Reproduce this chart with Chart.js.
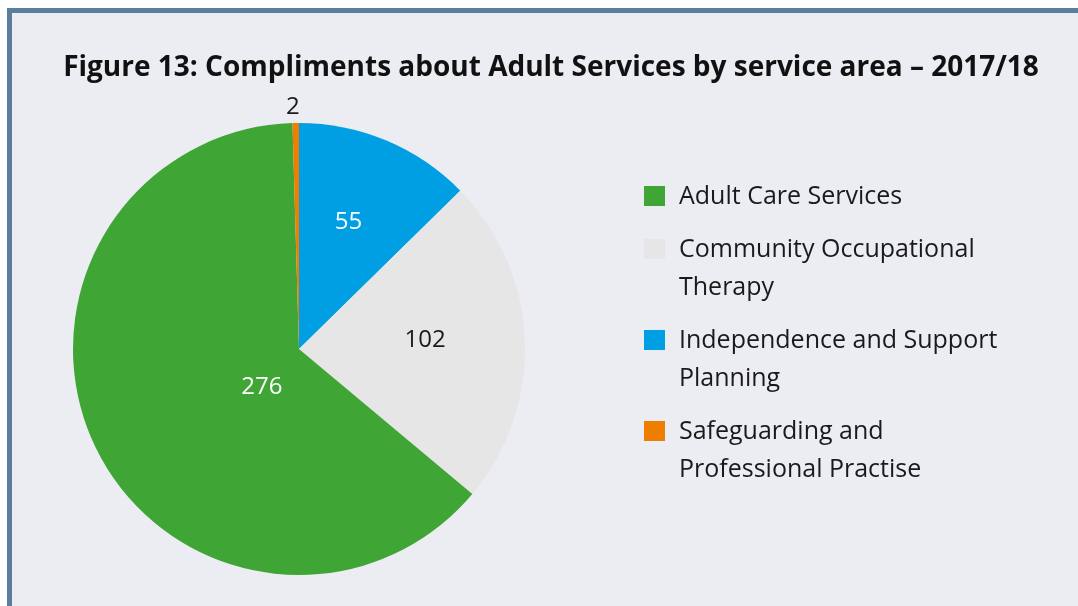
<!DOCTYPE html>
<html>
<head>
<meta charset="utf-8">
<script src="https://cdn.jsdelivr.net/npm/chart.js@4/dist/chart.umd.min.js"></script>
<style>
  html, body { margin: 0; padding: 0; background: #ffffff; width: 1078px; height: 606px; overflow: hidden; }
  #frame {
    position: absolute; left: 7px; top: 8px; width: 1071px; height: 598px;
    box-sizing: border-box; background: #ecedf2;
    border-left: 5px solid #5a7e9b; border-top: 5px solid #5a7e9b;
  }
  #wrap { position: absolute; left: 0; top: 0; width: 1078px; height: 606px; }
</style>
</head>
<body>
<div id="frame"></div>
<div id="wrap"><canvas id="chart" width="1078" height="606"></canvas></div>
<script>
const chartTitle = 'Figure 13: Compliments about Adult Services by service area \u2013 2017/18';
const categories = [
  'Adult Care Services',
  'Community Occupational Therapy',
  'Independence and Support Planning',
  'Safeguarding and Professional Practise'
];
const compliments = [276, 102, 55, 2];
const sliceColors = ['#3fa535', '#e6e6e6', '#009fe3', '#ef7d00'];
const valueColors = ['#ffffff', '#1a1a1a', '#ffffff', '#1a1a1a'];

// Slices run clockwise from 12 o'clock in this order (indices into the arrays above)
const sliceOrder = [2, 1, 0, 3];
// Value label placement: fraction of the radius and an angular nudge in degrees
const labelSpots = [
  { r: 0.23, shift: -18.5 },
  { r: 0.56, shift: -2.7 },
  { r: 0.61, shift: -1.7 },
  { r: 1.08, shift: -0.6 }
];

const FONT = '"Open Sans", "Noto Sans", sans-serif';

function wrapText(ctx, text, maxWidth) {
  const words = text.split(' ');
  const lines = [];
  let line = '';
  for (const w of words) {
    const test = line ? line + ' ' + w : w;
    if (line && ctx.measureText(test).width > maxWidth) {
      lines.push(line);
      line = w;
    } else {
      line = test;
    }
  }
  if (line) lines.push(line);
  return lines;
}

const decorations = {
  id: 'decorations',
  afterDraw(chart) {
    const ctx = chart.ctx;
    ctx.save();

    // Title
    ctx.fillStyle = '#111111';
    ctx.font = 'bold 28px ' + FONT;
    ctx.textAlign = 'center';
    ctx.textBaseline = 'middle';
    ctx.fillText(chartTitle, 551, 68);

    // Value labels on the slices
    ctx.font = '24px ' + FONT;
    const meta = chart.getDatasetMeta(0);
    meta.data.forEach((arc, i) => {
      const k = sliceOrder[i];
      const p = arc.getProps(['x', 'y', 'startAngle', 'endAngle', 'outerRadius'], true);
      const spot = labelSpots[k];
      const ang = (p.startAngle + p.endAngle) / 2 + spot.shift * Math.PI / 180;
      const r = p.outerRadius * spot.r;
      ctx.fillStyle = valueColors[k];
      ctx.fillText(String(compliments[k]), p.x + Math.cos(ang) * r, p.y + Math.sin(ang) * r + 2);
    });

    // Legend, in category order
    ctx.font = '25px ' + FONT;
    ctx.textAlign = 'left';
    let y = 196;
    categories.forEach((name, k) => {
      ctx.fillStyle = sliceColors[k];
      ctx.fillRect(644, y - 10, 21, 20);
      const lines = wrapText(ctx, name, 330);
      ctx.fillStyle = '#1a1a1a';
      lines.forEach((ln, li) => ctx.fillText(ln, 679, y + li * 38 + 1));
      y += lines.length * 38 + 15;
    });

    ctx.restore();
  }
};

new Chart(document.getElementById('chart'), {
  type: 'pie',
  data: {
    labels: sliceOrder.map(k => categories[k]),
    datasets: [{
      data: sliceOrder.map(k => compliments[k]),
      backgroundColor: sliceOrder.map(k => sliceColors[k]),
      borderWidth: 0
    }]
  },
  options: {
    responsive: false,
    animation: false,
    rotation: 0,
    layout: { padding: { left: 73, top: 123, right: 553, bottom: 31 } },
    plugins: {
      legend: { display: false },
      title: { display: false },
      tooltip: { enabled: false }
    }
  },
  plugins: [decorations]
});
</script>
</body>
</html>
